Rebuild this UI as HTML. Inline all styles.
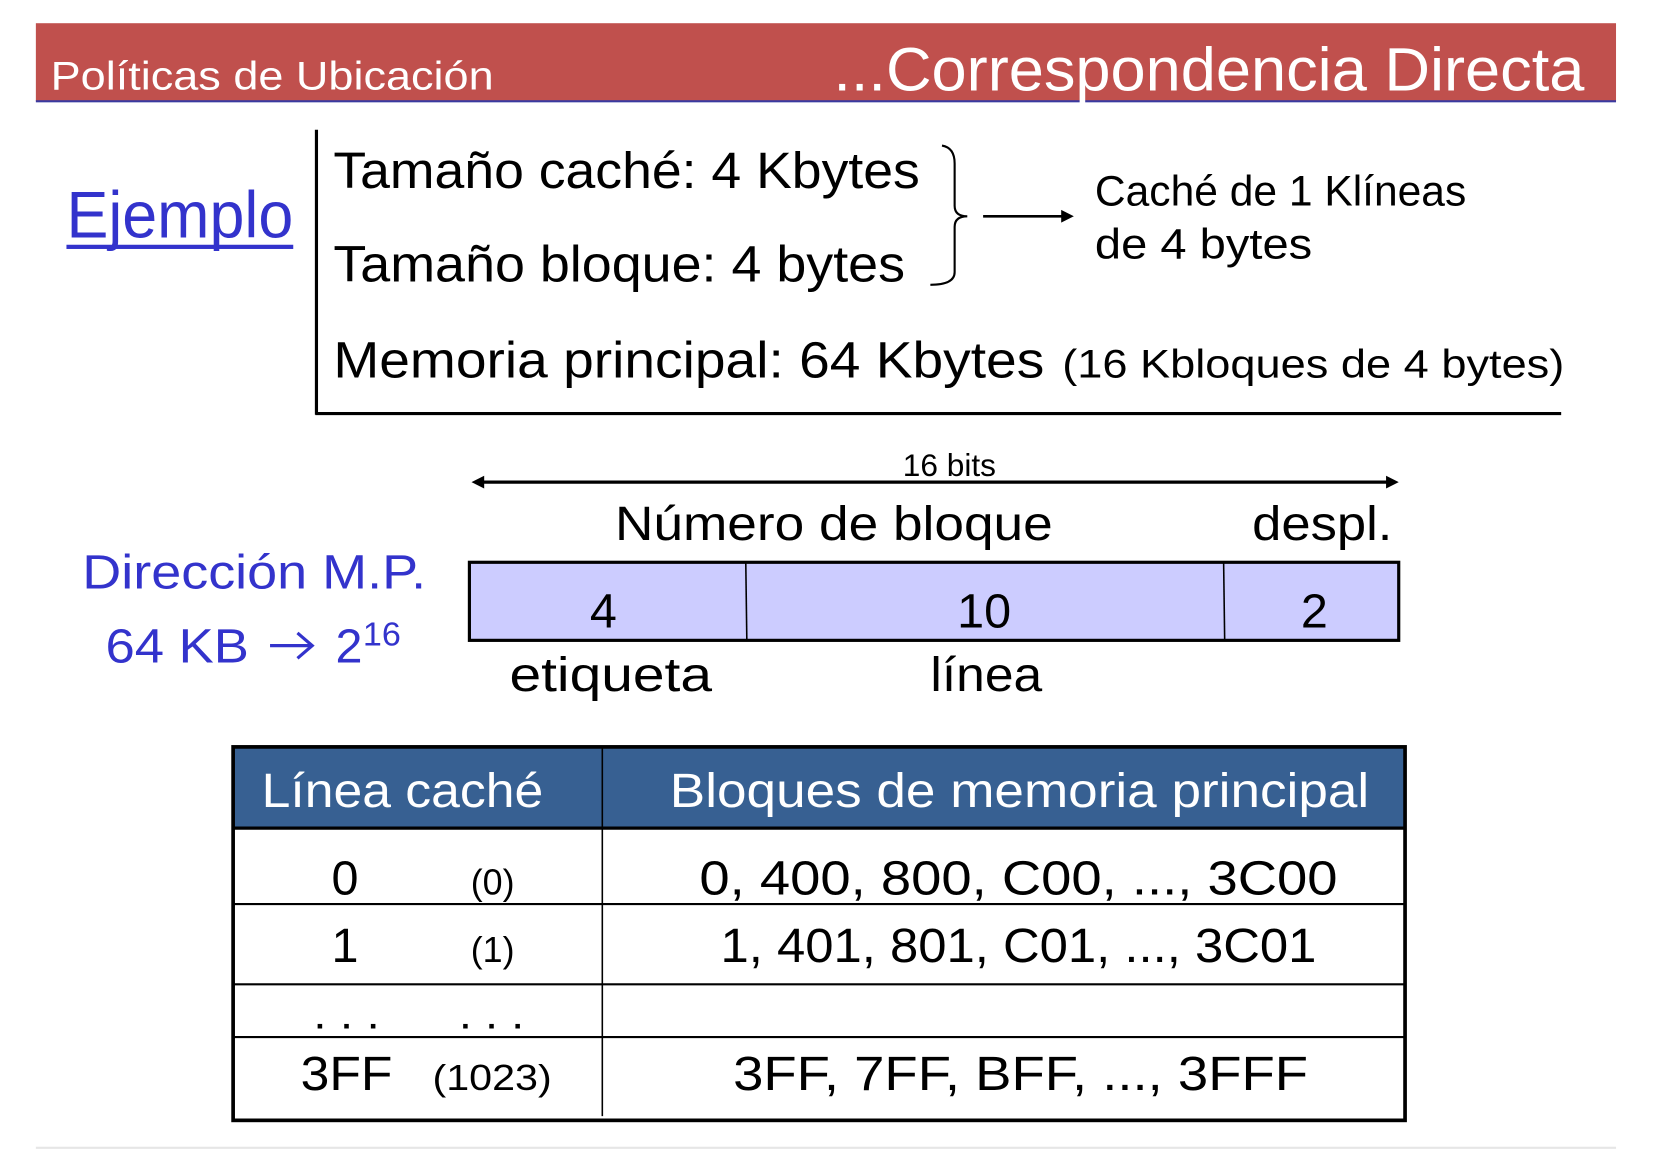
<!DOCTYPE html>
<html><head><meta charset="utf-8"><style>
html,body{margin:0;padding:0;background:#fff;width:1654px;height:1152px;overflow:hidden}
svg{display:block}
text{font-family:"Liberation Sans",sans-serif}
</style></head><body>
<svg width="1654" height="1152" viewBox="0 0 1568 1092" preserveAspectRatio="none" xmlns="http://www.w3.org/2000/svg">
<rect x="34" y="22" width="1498" height="74" fill="#C0504D"/>
<rect x="34" y="95" width="1498" height="2" fill="#3a3aa0"/>
<text x="48" y="85" font-size="38" fill="#fff" textLength="420" lengthAdjust="spacingAndGlyphs">Políticas de Ubicación</text>
<text x="790" y="86" font-size="58" fill="#fff" textLength="712" lengthAdjust="spacingAndGlyphs">...Correspondencia Directa</text>

<text x="63" y="225" font-size="62" fill="#3333cc" textLength="215" lengthAdjust="spacingAndGlyphs">Ejemplo</text>
<rect x="63" y="232" width="215" height="4" fill="#3333cc"/>
<line x1="300" y1="123" x2="300" y2="393" stroke="#000" stroke-width="3"/>
<line x1="299" y1="392" x2="1480" y2="392" stroke="#000" stroke-width="3"/>
<text x="316" y="178" font-size="48" textLength="556" lengthAdjust="spacingAndGlyphs">Tamaño caché: 4 Kbytes</text>
<text x="316" y="267" font-size="48" textLength="542" lengthAdjust="spacingAndGlyphs">Tamaño bloque: 4 bytes</text>
<path d="M893 138 Q905 140 905 155 L905 195 Q905 205 917 205 Q905 205 905 215 L905 258 Q905 270 882 270" fill="none" stroke="#000" stroke-width="2"/>
<line x1="932" y1="205" x2="1010" y2="205" stroke="#000" stroke-width="2.5"/>
<polygon points="1018,205 1006,199 1006,211" fill="#000"/>
<text x="1038" y="195" font-size="40" textLength="352" lengthAdjust="spacingAndGlyphs">Caché de 1 Klíneas</text>
<text x="1038" y="245" font-size="40" textLength="206" lengthAdjust="spacingAndGlyphs">de 4 bytes</text>
<text x="316" y="358" font-size="48" textLength="674" lengthAdjust="spacingAndGlyphs">Memoria principal: 64 Kbytes</text>
<text x="1007" y="358" font-size="38" textLength="476" lengthAdjust="spacingAndGlyphs">(16 Kbloques de 4 bytes)</text>

<text x="900" y="451" font-size="30" text-anchor="middle">16 bits</text>
<line x1="455" y1="457" x2="1318" y2="457" stroke="#000" stroke-width="3"/>
<polygon points="447,457 459,451 459,463" fill="#000"/>
<polygon points="1326,457 1314,451 1314,463" fill="#000"/>
<text x="583" y="512" font-size="46" textLength="415" lengthAdjust="spacingAndGlyphs">Número de bloque</text>
<text x="1187" y="512" font-size="46" textLength="133" lengthAdjust="spacingAndGlyphs">despl.</text>
<rect x="445" y="533" width="881" height="74" fill="#ccccff" stroke="#000" stroke-width="3"/>
<line x1="707" y1="533" x2="708" y2="607" stroke="#000" stroke-width="1.5"/>
<line x1="1160" y1="533" x2="1161" y2="607" stroke="#000" stroke-width="1.5"/>
<text x="572" y="595" font-size="46" text-anchor="middle">4</text>
<text x="933" y="595" font-size="46" text-anchor="middle">10</text>
<text x="1246" y="595" font-size="46" text-anchor="middle">2</text>
<text x="483" y="655" font-size="46" textLength="192" lengthAdjust="spacingAndGlyphs">etiqueta</text>
<text x="882" y="655" font-size="46" textLength="106" lengthAdjust="spacingAndGlyphs">línea</text>
<text x="78" y="558" font-size="46" fill="#3333cc" textLength="326" lengthAdjust="spacingAndGlyphs">Dirección M.P.</text>
<text x="100" y="628" font-size="46" fill="#3333cc" textLength="136" lengthAdjust="spacingAndGlyphs">64 KB</text>
<line x1="256" y1="612" x2="294" y2="612" stroke="#3333cc" stroke-width="3"/>
<polyline points="282,600 296,612 282,624" fill="none" stroke="#3333cc" stroke-width="3"/>
<text x="318" y="628" font-size="46" fill="#3333cc">2</text>
<text x="344" y="612" font-size="32" fill="#3333cc" textLength="36" lengthAdjust="spacingAndGlyphs">16</text>

<rect x="221" y="709" width="1111" height="76" fill="#376092"/>
<rect x="221" y="708" width="1111" height="354" fill="none" stroke="#000" stroke-width="3.5"/>
<line x1="571" y1="709" x2="571" y2="1058" stroke="#000" stroke-width="1.5"/>
<line x1="221" y1="785" x2="1332" y2="785" stroke="#000" stroke-width="3"/>
<line x1="221" y1="857" x2="1332" y2="857" stroke="#000" stroke-width="2"/>
<line x1="221" y1="933" x2="1332" y2="933" stroke="#000" stroke-width="2"/>
<line x1="221" y1="983" x2="1332" y2="983" stroke="#000" stroke-width="2"/>
<text x="248" y="765" font-size="46" fill="#fff" textLength="267" lengthAdjust="spacingAndGlyphs">Línea caché</text>
<text x="635" y="765" font-size="46" fill="#fff" textLength="663" lengthAdjust="spacingAndGlyphs">Bloques de memoria principal</text>
<text x="327" y="848" font-size="46" text-anchor="middle">0</text>
<text x="467" y="848" font-size="34" text-anchor="middle">(0)</text>
<text x="663" y="848" font-size="46" textLength="605" lengthAdjust="spacingAndGlyphs">0, 400, 800, C00, ..., 3C00</text>
<text x="327" y="912" font-size="46" text-anchor="middle">1</text>
<text x="467" y="912" font-size="34" text-anchor="middle">(1)</text>
<text x="683" y="912" font-size="46" textLength="565" lengthAdjust="spacingAndGlyphs">1, 401, 801, C01, ..., 3C01</text>
<text x="297" y="975" font-size="40" textLength="63" lengthAdjust="spacingAndGlyphs">. . .</text>
<text x="435" y="975" font-size="40" textLength="62" lengthAdjust="spacingAndGlyphs">. . .</text>
<text x="285" y="1033" font-size="46" textLength="87" lengthAdjust="spacingAndGlyphs">3FF</text>
<text x="410" y="1033" font-size="34" textLength="113" lengthAdjust="spacingAndGlyphs">(1023)</text>
<text x="695" y="1033" font-size="46" textLength="545" lengthAdjust="spacingAndGlyphs">3FF, 7FF, BFF, ..., 3FFF</text>
<line x1="34" y1="1088" x2="1532" y2="1088" stroke="#e6e6e6" stroke-width="2"/>
</svg>
</body></html>
